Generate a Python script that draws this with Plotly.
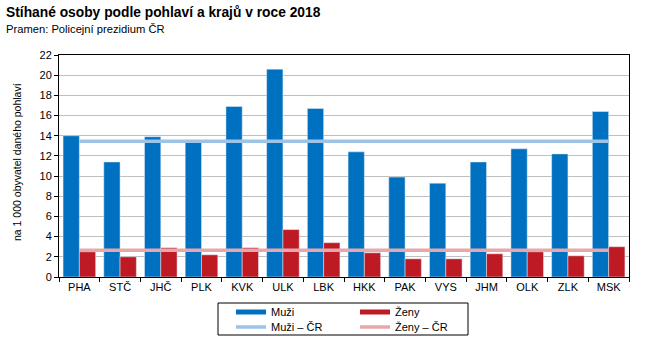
import plotly.graph_objects as go

regions = ["PHA", "STČ", "JHČ", "PLK", "KVK", "ULK", "LBK", "HKK", "PAK", "VYS", "JHM", "OLK", "ZLK", "MSK"]
muzi = [14.0, 11.4, 13.9, 13.4, 16.9, 20.6, 16.7, 12.4, 9.9, 9.3, 11.4, 12.7, 12.2, 16.4]
zeny = [2.5, 2.0, 2.9, 2.2, 2.9, 4.7, 3.4, 2.4, 1.8, 1.8, 2.3, 2.5, 2.1, 3.0]
muzi_cr = 13.45
zeny_cr = 2.65
y_ticks = list(range(0, 23, 2))

BLUE = "#0070C0"
RED = "#BE1A24"
LBLUE = "#9DC3E6"
PINK = "#E6A8AD"
FONT = "Arial, Liberation Sans, sans-serif"

W, H = 651, 341
L, R, T, B = 59, 22, 55, 64
PW, PH = W - L - R, H - T - B

def px(x):
    return (x - L) / PW

def py(y):
    return (H - B - y) / PH

fig = go.Figure()
fig.add_trace(go.Bar(x=regions, y=muzi, marker_color=BLUE, showlegend=False, name="Muži"))
fig.add_trace(go.Bar(x=regions, y=zeny, marker_color=RED, showlegend=False, name="Ženy"))
fig.add_trace(go.Scatter(x=regions, y=[muzi_cr] * len(regions), mode="lines",
                         line=dict(color=LBLUE, width=3.5), showlegend=False))
fig.add_trace(go.Scatter(x=regions, y=[zeny_cr] * len(regions), mode="lines",
                         line=dict(color=PINK, width=3.5), showlegend=False))

# legend entries
legend_items = [
    ("Muži", BLUE, 5, "legend"),
    ("Ženy", RED, 5, "legend2"),
    ("Muži – ČR", LBLUE, 3.5, "legend3"),
    ("Ženy – ČR", PINK, 3.5, "legend4"),
]
for name, col, w, lg in legend_items:
    fig.add_trace(go.Scatter(x=[None], y=[None], mode="lines", name=name,
                             line=dict(color=col, width=w), legend=lg, showlegend=True))

def leg(xp, yp):
    return dict(x=xp / W, y=1 - yp / H, xref="container", yref="container",
                xanchor="left", yanchor="middle",
                bgcolor="rgba(0,0,0,0)", borderwidth=0,
                font=dict(family=FONT, size=11, color="#000"),
                itemwidth=30, tracegroupgap=0)

fig.update_layout(
    width=W, height=H,
    margin=dict(l=L, r=R, t=T, b=B, autoexpand=False),
    paper_bgcolor="white", plot_bgcolor="white",
    barmode="group", bargap=0.2, bargroupgap=0,
    font=dict(family=FONT, size=11, color="#000"),
    legend=leg(231, 312),
    legend2=leg(355, 312),
    legend3=leg(231, 327),
    legend4=leg(355, 327),
    xaxis=dict(showline=True, linecolor="#000", linewidth=1, mirror=True,
               ticks="outside", tickson="boundaries", ticklen=4, tickcolor="#000",
               showgrid=False, tickfont=dict(size=11)),
    yaxis=dict(range=[0, 22], tickvals=y_ticks, showline=True, linecolor="#000",
               linewidth=1, mirror=True, ticks="outside", ticklen=4, tickcolor="#000",
               showgrid=True, gridcolor="#BFBFBF", gridwidth=1, zeroline=False,
               tickfont=dict(size=11)),
    annotations=[
        dict(text="<b>Stíhané osoby podle pohlaví a krajů v roce 2018</b>", x=px(4), y=py(13),
             xref="paper", yref="paper", xanchor="left", yanchor="middle", showarrow=False,
             font=dict(family=FONT, size=13.8, color="#000")),
        dict(text="Pramen: Policejní prezidium ČR", x=px(4), y=py(29),
             xref="paper", yref="paper", xanchor="left", yanchor="middle", showarrow=False,
             font=dict(family=FONT, size=11.2, color="#000")),
        dict(text="na 1 000 obyvatel daného pohlaví", x=px(17), y=py(162), textangle=-90,
             xref="paper", yref="paper", xanchor="center", yanchor="middle", showarrow=False,
             font=dict(family=FONT, size=10.5, color="#000")),
    ],
    shapes=[
        dict(type="rect", xref="paper", yref="paper", x0=px(218), x1=px(468), y0=py(303), y1=py(335),
             line=dict(color="#000", width=1), fillcolor="rgba(0,0,0,0)"),
    ],
)

fig.write_html("out.html")
